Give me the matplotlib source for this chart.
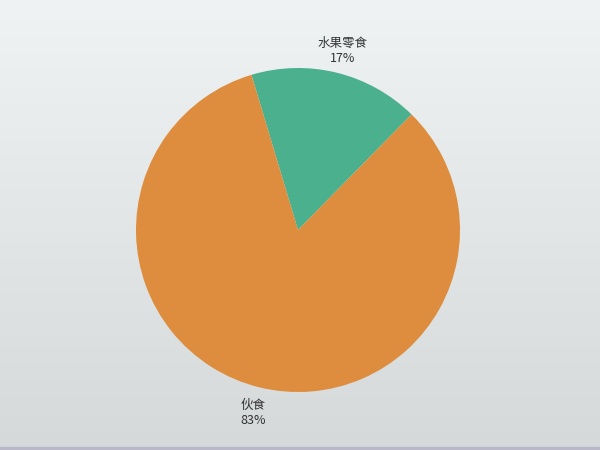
import numpy as np
import matplotlib
matplotlib.use("Agg")
import matplotlib.pyplot as plt

plt.rcParams['font.family'] = ['Noto Sans CJK SC', 'DejaVu Sans']

categories = ["水果零食", "伙食"]
values = [17, 83]
colors = ["#4ab08d", "#dd8d3d"]

fig = plt.figure(figsize=(6, 4.5), dpi=100)

# gradient background
bg = fig.add_axes([0, 0, 1, 1])
grad = np.linspace(0, 1, 256).reshape(-1, 1)
top = np.array([0xef, 0xf3, 0xf4]) / 255
bot = np.array([0xd5, 0xd9, 0xda]) / 255
img = top + (bot - top) * grad[:, :, None]
bg.imshow(img, aspect='auto', extent=[0, 1, 0, 1], origin='upper')
bg.axhspan(0, 3 / 450, color="#b8b8c8")
bg.set_xlim(0, 1)
bg.set_ylim(0, 1)
bg.axis('off')

ax = fig.add_axes([0, 0, 1, 1])
ax.patch.set_alpha(0)

total = sum(values)
wedges, texts = ax.pie(values, colors=colors, startangle=45.5, counterclock=True,
                       center=(298, 220), radius=162,
                       wedgeprops=dict(linewidth=0),
                       frame=True)
ax.set_xlim(0, 600)
ax.set_ylim(0, 450)
ax.set_aspect('equal')
ax.axis('off')

start = 45.5
for cat, v in zip(categories, values):
    span = v / total * 360
    mid = np.deg2rad(start + span / 2)
    r = 162 * 1.15
    x = 298 + r * np.cos(mid)
    y = 220 + r * np.sin(mid) - 2
    ax.text(x, y, f"{cat}\n{round(v / total * 100)}%", ha='center', va='center',
            fontsize=9, color="#333333", linespacing=1.15)
    start += span

fig.savefig("out.png", dpi=100)
